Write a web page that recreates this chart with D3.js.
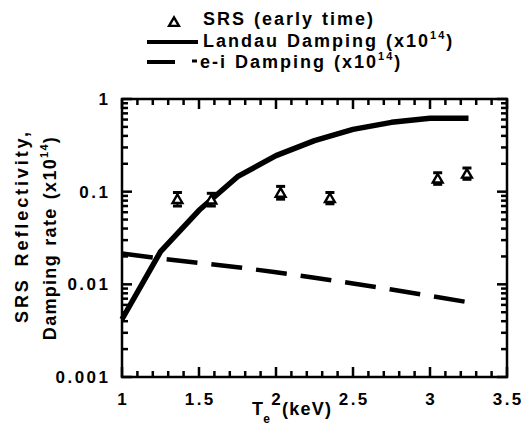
<!DOCTYPE html>
<html>
<head>
<meta charset="utf-8">
<script src="https://cdn.jsdelivr.net/npm/d3@7"></script>
<style>
  body { margin: 0; background: #fff; }
  text { font-family: Arial, "Liberation Sans", Helvetica, sans-serif; font-weight: bold; }
</style>
</head>
<body>
<div id="chart"></div>
<script>
// data
const srsTe  = [1.36, 1.58, 2.03, 2.35, 3.05, 3.24]
const srsVal = [0.083, 0.082, 0.097, 0.085, 0.138, 0.156]
const srsLo  = [0.070, 0.070, 0.083, 0.074, 0.120, 0.136]
const srsHi  = [0.098, 0.096, 0.114, 0.098, 0.160, 0.180]

const landauTe  = [1, 1.25, 1.5, 1.75, 2, 2.25, 2.5, 2.75, 3, 3.25]
const landauVal = [0.0042, 0.0225, 0.063, 0.145, 0.245, 0.355, 0.47, 0.56, 0.62, 0.62]

const eiTe  = [1, 1.25, 1.5, 1.75, 2, 2.25, 2.5, 2.75, 3, 3.25]
const eiVal = [0.0215, 0.019, 0.017, 0.0153, 0.0135, 0.0118, 0.0102, 0.0088, 0.0075, 0.0064]

const xTicks = [1, 1.5, 2, 2.5, 3, 3.5]
const yTicks = [0.001, 0.01, 0.1, 1]
const yTickLabels = ["0.001", "0.01", "0.1", "1"]

const legendLabels = ["SRS (early time)", "Landau Damping (x10", "e-i Damping (x10"]

const W = 523, H = 437
const margin = {top: 99, right: 16, bottom: 60, left: 122}
const width = W - margin.left - margin.right
const height = H - margin.top - margin.bottom

const svg = d3.select("#chart").append("svg")
  .attr("width", W).attr("height", H)

const g = svg.append("g")
  .attr("transform", "translate(" + margin.left + "," + margin.top + ")")

const x = d3.scaleLinear().domain([1, 3.5]).range([0, width])
const y = d3.scaleLog().domain([0.001, 1]).range([height, 0])

// frame
g.append("rect").attr("width", width).attr("height", height)
  .attr("fill", "none").attr("stroke", "#000").attr("stroke-width", 2.5)

// minor ticks
const xMinor = d3.range(11, 35).map(d => d / 10).filter(d => Math.abs(d * 2 - Math.round(d * 2)) > 1e-6)
const yMinor = []
for (let e = -3; e < 0; e++) for (let m = 2; m < 10; m++) yMinor.push(m * Math.pow(10, e))

const tickG = g.append("g")
function tickLine(x1, y1, x2, y2) {
  tickG.append("line")
    .attr("x1", x1).attr("y1", y1).attr("x2", x2).attr("y2", y2)
    .attr("stroke", "#000").attr("stroke-width", 2.5)
}
xMinor.forEach(d => { tickLine(x(d), height, x(d), height - 6); tickLine(x(d), 0, x(d), 6) })
xTicks.forEach(d => { tickLine(x(d), height, x(d), height - 10); tickLine(x(d), 0, x(d), 10) })
yMinor.forEach(d => { tickLine(0, y(d), 6, y(d)); tickLine(width, y(d), width - 6, y(d)) })
yTicks.forEach(d => { tickLine(0, y(d), 10, y(d)); tickLine(width, y(d), width - 10, y(d)) })

// tick labels
const ls = 2.5
g.selectAll(".xl").data(xTicks).enter().append("text")
  .attr("x", d => x(d) + ls / 2).attr("y", height + 28)
  .attr("text-anchor", "middle").attr("font-size", 17)
  .attr("letter-spacing", ls)
  .text(d => d)

g.selectAll(".yl").data(yTicks).enter().append("text")
  .attr("x", -14 + ls).attr("y", d => y(d) + 6)
  .attr("text-anchor", "end").attr("font-size", 17)
  .attr("letter-spacing", ls)
  .text((d, i) => yTickLabels[i])

// axis titles
const xt = svg.append("text").attr("x", 252).attr("y", 415).attr("font-size", 18).attr("letter-spacing", 1.2)
xt.append("tspan").text("T")
xt.append("tspan").attr("font-size", 12).attr("dy", 8).attr("dx", -1).text("e")
xt.append("tspan").attr("dy", -8).attr("dx", 11).text("(keV)")

const yt = svg.append("g").attr("transform", "rotate(-90)")
yt.append("text").attr("x", -226).attr("y", 28).attr("text-anchor", "middle")
  .attr("font-size", 18).attr("letter-spacing", 2.9).attr("word-spacing", 3).text("SRS Reflectivity,")
const yt2 = yt.append("text").attr("x", -238).attr("y", 56).attr("text-anchor", "middle")
  .attr("font-size", 18).attr("letter-spacing", 1.3).attr("word-spacing", 2)
yt2.append("tspan").text("Damping rate (x10")
yt2.append("tspan").attr("font-size", 11).attr("dy", -8).text("14")
yt2.append("tspan").attr("dy", 8).text(")")

// curves
const line = d3.line().x(d => x(d[0])).y(d => y(d[1]))
g.append("path").datum(d3.zip(landauTe, landauVal))
  .attr("d", line).attr("fill", "none").attr("stroke", "#000")
  .attr("stroke-width", 5.5).attr("stroke-linejoin", "round")
g.append("path").datum(d3.zip(eiTe, eiVal))
  .attr("d", line).attr("fill", "none").attr("stroke", "#000")
  .attr("stroke-width", 4.5).attr("stroke-dasharray", "31,14")

// SRS points with error bars
const tri = d3.symbol().type(d3.symbolTriangle).size(42)
const pts = g.selectAll(".pt").data(d3.range(srsTe.length)).enter().append("g")
pts.append("line")
  .attr("x1", i => x(srsTe[i])).attr("x2", i => x(srsTe[i]))
  .attr("y1", i => y(srsLo[i])).attr("y2", i => y(srsHi[i]))
  .attr("stroke", "#000").attr("stroke-width", 2)
pts.each(function(i) {
  const s = d3.select(this)
  ;[srsLo[i], srsHi[i]].forEach(v => s.append("line")
    .attr("x1", x(srsTe[i]) - 4.5).attr("x2", x(srsTe[i]) + 4.5)
    .attr("y1", y(v)).attr("y2", y(v))
    .attr("stroke", "#000").attr("stroke-width", 3))
})
pts.append("path").attr("d", tri)
  .attr("transform", i => "translate(" + x(srsTe[i]) + "," + (y(srsVal[i]) + 1) + ")")
  .attr("fill", "#fff").attr("stroke", "#000").attr("stroke-width", 2.4)

// legend
const lg = svg.append("g")
lg.append("path").attr("d", tri).attr("transform", "translate(174,23)")
  .attr("fill", "#fff").attr("stroke", "#000").attr("stroke-width", 2.4)
lg.append("text").attr("x", 203).attr("y", 25).attr("font-size", 18)
  .attr("letter-spacing", 2).attr("word-spacing", 1).text(legendLabels[0])
lg.append("line").attr("x1", 147).attr("x2", 198).attr("y1", 42).attr("y2", 42)
  .attr("stroke", "#000").attr("stroke-width", 4)
lg.append("line").attr("x1", 147).attr("x2", 175).attr("y1", 62).attr("y2", 62)
  .attr("stroke", "#000").attr("stroke-width", 4)
lg.append("line").attr("x1", 192).attr("x2", 197).attr("y1", 61).attr("y2", 61)
  .attr("stroke", "#000").attr("stroke-width", 3)
const l2 = lg.append("text").attr("x", 203).attr("y", 47).attr("font-size", 18)
  .attr("letter-spacing", 2).attr("word-spacing", 1)
l2.append("tspan").text(legendLabels[1])
l2.append("tspan").attr("font-size", 11).attr("dy", -8).text("14")
l2.append("tspan").attr("dy", 8).text(")")
const l3 = lg.append("text").attr("x", 200).attr("y", 68).attr("font-size", 18)
  .attr("letter-spacing", 2).attr("word-spacing", 1)
l3.append("tspan").text(legendLabels[2])
l3.append("tspan").attr("font-size", 11).attr("dy", -8).text("14")
l3.append("tspan").attr("dy", 8).text(")")
</script>
</body>
</html>
